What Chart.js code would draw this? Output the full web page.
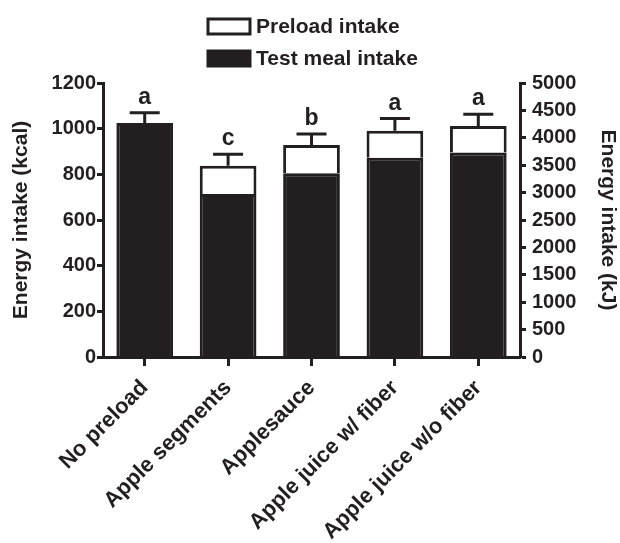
<!DOCTYPE html>
<html>
<head>
<meta charset="utf-8">
<script src="https://cdn.jsdelivr.net/npm/chart.js@4.4.1/dist/chart.umd.min.js"></script>
<style>
    body { margin: 0; background: #fff; }
    #wrap { width: 620px; height: 543px; }
</style>
</head>
<body>
<div id="wrap"><canvas id="energyChart" width="620" height="543"></canvas></div>
<script>
var categories = ['No preload', 'Apple segments', 'Applesauce', 'Apple juice w/ fiber', 'Apple juice w/o fiber'];
var testMeal = [1025, 714, 805, 873, 896];
var preload = [0, 124, 123, 118, 116];
var sem = [45, 50, 49, 53, 51];
var letters = ['a', 'c', 'b', 'a', 'a'];
var seriesNames = ['Preload intake', 'Test meal intake'];
var kcalMax = 1200, kcalStep = 200;
var kjMax = 5000, kjStep = 500;

var ink = '#231f20';
var fontFamily = '"Liberation Sans", Arial, Helvetica, sans-serif';

// error bars + significance letters on top of each stack
var errorBars = {
    id: 'errorBars',
    afterDatasetsDraw: function (chart) {
        var ctx = chart.ctx;
        var yScale = chart.scales.y;
        var meta = chart.getDatasetMeta(1);
        ctx.save();
        ctx.strokeStyle = ink;
        ctx.fillStyle = ink;
        ctx.lineWidth = 3;
        ctx.font = 'bold 23px ' + fontFamily;
        ctx.textAlign = 'center';
        ctx.textBaseline = 'alphabetic';
        meta.data.forEach(function (bar, i) {
            var total = testMeal[i] + preload[i];
            var yTop = yScale.getPixelForValue(total);
            var yErr = yScale.getPixelForValue(total + sem[i]);
            ctx.beginPath();
            ctx.moveTo(bar.x, yTop);
            ctx.lineTo(bar.x, yErr);
            ctx.moveTo(bar.x - 15, yErr);
            ctx.lineTo(bar.x + 15, yErr);
            ctx.stroke();
            ctx.fillText(letters[i], bar.x, yErr - 9);
        });
        ctx.restore();
    }
};

// stacked legend, as in the figure
var boxLegend = {
    id: 'boxLegend',
    afterDraw: function (chart) {
        var ctx = chart.ctx;
        ctx.save();
        ctx.font = 'bold 21px ' + fontFamily;
        ctx.textAlign = 'left';
        ctx.textBaseline = 'middle';
        ctx.lineWidth = 3;
        ctx.strokeStyle = ink;
        seriesNames.forEach(function (name, i) {
            var top = 19 + i * 32;
            ctx.fillStyle = i === 0 ? '#ffffff' : ink;
            ctx.fillRect(208, top, 42, 15);
            ctx.strokeRect(208, top, 42, 15);
            ctx.fillStyle = ink;
            ctx.fillText(name, 256, top + 8);
        });
        ctx.restore();
    }
};

var tickFont = { family: fontFamily, size: 20, weight: 'bold' };
var plainNumber = function (value) { return String(value); };

var ctx = document.getElementById('energyChart').getContext('2d');
var energyChart = new Chart(ctx, {
    type: 'bar',
    data: {
        labels: categories,
        datasets: [
            {
                label: seriesNames[1],
                data: testMeal,
                backgroundColor: ink,
                borderColor: ink,
                borderWidth: 3,
                stack: 's'
            },
            {
                label: seriesNames[0],
                data: preload,
                backgroundColor: '#ffffff',
                borderColor: ink,
                borderWidth: 3,
                stack: 's'
            }
        ]
    },
    options: {
        responsive: false,
        animation: false,
        barPercentage: 0.68,
        categoryPercentage: 1,
        layout: { padding: { top: 83, left: 0, right: 0, bottom: 0 } },
        plugins: {
            legend: { display: false },
            tooltip: { enabled: false }
        },
        scales: {
            x: {
                stacked: true,
                afterFit: function (scale) { scale.height = 186; },
                grid: { display: true, drawOnChartArea: false, offset: false, tickLength: 9, tickWidth: 3, tickColor: ink },
                border: { display: true, color: ink, width: 3 },
                ticks: { color: ink, font: { family: fontFamily, size: 22, weight: 'bold' }, minRotation: 45, maxRotation: 45, padding: 9 }
            },
            y: {
                stacked: true,
                position: 'left',
                min: 0,
                max: kcalMax,
                afterFit: function (scale) { scale.width = 103; },
                grid: { display: true, drawOnChartArea: false, tickLength: 6, tickWidth: 3, tickColor: ink },
                border: { display: true, color: ink, width: 3 },
                ticks: { color: ink, font: tickFont, stepSize: kcalStep, padding: 1, callback: plainNumber },
                title: {
                    display: true,
                    text: 'Energy intake (kcal)',
                    color: ink,
                    font: { family: fontFamily, size: 21, weight: 'bold', lineHeight: 1.15 },
                    padding: { top: 9, bottom: 0 }
                }
            },
            y1: {
                position: 'right',
                min: 0,
                max: kjMax,
                afterFit: function (scale) { scale.width = 100; },
                grid: { display: true, drawOnChartArea: false, tickLength: 6, tickWidth: 3, tickColor: ink },
                border: { display: true, color: ink, width: 3 },
                ticks: { color: ink, font: tickFont, stepSize: kjStep, padding: 6, callback: plainNumber },
                title: {
                    display: true,
                    text: 'Energy intake (kJ)',
                    color: ink,
                    font: { family: fontFamily, size: 21, weight: 'bold', lineHeight: 1.15 },
                    padding: { top: 0, bottom: 0 }
                }
            }
        }
    },
    plugins: [errorBars, boxLegend]
});
</script>
</body>
</html>
